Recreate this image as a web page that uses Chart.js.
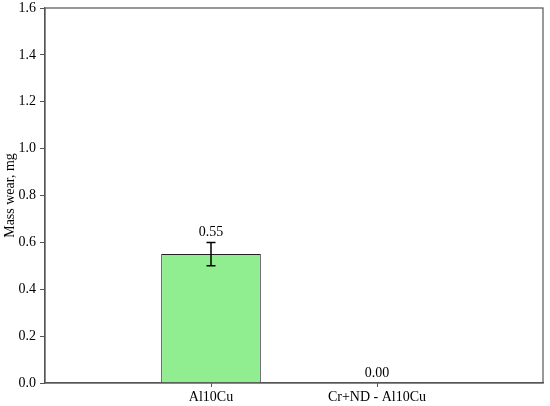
<!DOCTYPE html>
<html>
<head>
<meta charset="utf-8">
<script src="https://cdn.jsdelivr.net/npm/chart.js@4"></script>
<style>
html,body{margin:0;padding:0;background:#fff;}
#wrap{width:550px;height:406px;position:relative;}
</style>
</head>
<body>
<div id="wrap"><canvas id="c" width="550" height="406"></canvas></div>
<script>
const categories = ['Al10Cu', 'Cr+ND - Al10Cu'];
const massWear = [0.55, 0.00];
const errors = [0.05, 0.00];
const yTicks = [0, 0.2, 0.4, 0.6, 0.8, 1.0, 1.2, 1.4, 1.6];
const yTitle = 'Mass wear, mg';

const FONT = "'Liberation Serif', 'Times New Roman', serif";
const AXIS_COLOR = '#555';

const extras = {
  id: 'extras',
  afterDatasetsDraw(chart) {
    const ctx = chart.ctx;
    const xs = chart.scales.x, ys = chart.scales.y;
    const a = chart.chartArea;
    ctx.save();
    categories.forEach((c, i) => {
      const v = massWear[i], e = errors[i];
      const px = xs.getPixelForValue(i);
      const top = ys.getPixelForValue(v + e);
      const bot = ys.getPixelForValue(v - e);
      if (e > 0) {
        ctx.strokeStyle = '#000';
        ctx.lineWidth = 1.5;
        ctx.beginPath();
        ctx.moveTo(px, top); ctx.lineTo(px, bot);
        ctx.moveTo(px - 4.5, top); ctx.lineTo(px + 4.5, top);
        ctx.moveTo(px - 4.5, bot); ctx.lineTo(px + 4.5, bot);
        ctx.stroke();
      }
      ctx.fillStyle = '#000';
      ctx.font = '14px ' + FONT;
      ctx.textAlign = 'center';
      ctx.textBaseline = 'bottom';
      ctx.fillText(v.toFixed(2), px, top - 3);
    });
    ctx.strokeStyle = AXIS_COLOR;
    ctx.lineWidth = 1.2;
    ctx.strokeRect(a.left, a.top, a.right - a.left, a.bottom - a.top);
    ctx.restore();
  }
};

new Chart(document.getElementById('c'), {
  type: 'bar',
  data: {
    datasets: [{
      data: categories.map((c, i) => ({ x: i, y: massWear[i] })),
      backgroundColor: '#90EE90',
      borderColor: '#222',
      borderWidth: 1,
      barPercentage: 0.6,
      categoryPercentage: 1.0
    }]
  },
  options: {
    responsive: false,
    animation: false,
    devicePixelRatio: 1,
    layout: { padding: { top: 8, right: 7, left: 0, bottom: 0 } },
    plugins: { legend: { display: false }, tooltip: { enabled: false } },
    scales: {
      x: {
        type: 'linear',
        min: -1, max: 2,
        offset: false,
        afterBuildTicks(s) { s.ticks = categories.map((c, i) => ({ value: i })); },
        afterFit(s) { s.height = 23; s.paddingLeft = 0; s.paddingRight = 0; },
        grid: { offset: false, drawOnChartArea: false, drawTicks: true, tickLength: 4, color: AXIS_COLOR },
        border: { display: true, color: AXIS_COLOR, width: 1.2 },
        ticks: {
          autoSkip: false, maxRotation: 0, padding: 2, color: '#000',
          font: { family: FONT, size: 14 },
          callback(v) { return categories[v] ?? ''; }
        }
      },
      y: {
        min: 0, max: 1.6,
        afterBuildTicks(s) { s.ticks = yTicks.map(v => ({ value: v })); },
        afterFit(s) { s.width = 45; s.paddingTop = 0; s.paddingBottom = 0; },
        grid: { drawOnChartArea: false, drawTicks: true, tickLength: 5, color: AXIS_COLOR },
        border: { display: true, color: AXIS_COLOR, width: 1.2 },
        ticks: {
          padding: 4, color: '#000',
          font: { family: FONT, size: 14 },
          callback(v) { return Number(v).toFixed(1); }
        },
        title: {
          display: true, text: yTitle, color: '#000',
          font: { family: FONT, size: 14 },
          padding: { top: 2, bottom: 0 }
        }
      }
    }
  },
  plugins: [extras]
});
</script>
</body>
</html>
